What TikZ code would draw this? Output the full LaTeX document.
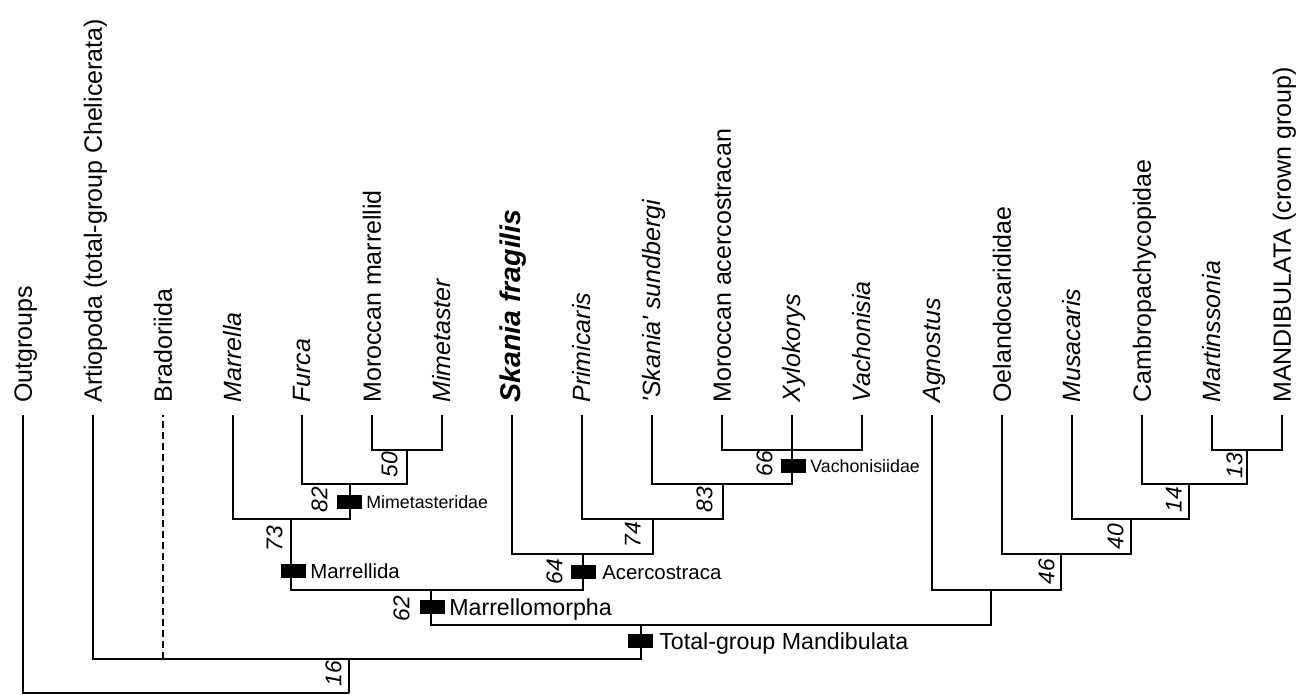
\documentclass[tikz,border=0pt]{standalone}
\usepackage{fontspec}
\setmainfont{Liberation Sans}[Ligatures=TeXOff]
\usetikzlibrary{positioning,calc}

\begin{document}
\begin{tikzpicture}[
	x=0.5pt, y=-0.5pt,
	branch/.style={line width=1pt},
	% terminal names, rotated, read from bottom to top
	taxon/.style={
		rotate=90, anchor=west, inner sep=0pt,
		text height=8.95pt, text depth=0pt,
		font=\fontsize{12.5}{14}\selectfont
	},
	% bootstrap values on the left of the stems
	support/.style={
		rotate=90, anchor=south west, inner sep=0pt,
		font=\fontsize{11.4}{13}\selectfont\itshape
	},
	% black bars marking named clades
	synbox/.style={
		fill=black, inner sep=0pt,
		minimum width=12.5pt, minimum height=7pt
	},
	cladelab/.style={
		anchor=west, inner sep=0pt, text height=7.4pt, text depth=0pt,
		font=\fontsize{10.2}{12}\selectfont
	},
	biglab/.style={cladelab, text height=8.3pt, font=\fontsize{11.6}{13}\selectfont},
	famlab/.style={cladelab, text height=6.4pt, font=\fontsize{8.9}{10}\selectfont}
	]
	\useasboundingbox (0,0) rectangle (1305,695);

	% Taxa along the top
	\foreach \nm/\xx/\txt in {
		outg/23/Outgroups,
		artio/93/Artiopoda (total-group Chelicerata),
		brad/163/Bradoriida,
		marrella/233/\textit{Marrella},
		furca/302/\textit{Furca},
		mormar/372/Moroccan marrellid,
		mimet/442/\textit{Mimetaster},
		skfrag/512/{\fontsize{14.25}{16}\selectfont\bfseries\itshape Skania fragilis},
		primi/582/\textit{Primicaris},
		sksund/652/\textit{'Skania' sundbergi},
		moracer/722/Moroccan acercostracan,
		xylo/792/\textit{Xylokorys},
		vach/862/\textit{Vachonisia},
		agno/932/\textit{Agnostus},
		oeland/1002/Oelandocarididae,
		musa/1072/\textit{Musacaris},
		cambro/1142/Cambropachycopidae,
		martin/1212/\textit{Martinssonia},
		mandib/1282/MANDIBULATA (crown group)}
	{
		\node[taxon] (l-\nm) at (\xx,403) {\txt};
		\coordinate (t-\nm) at (\xx,415);
	}

	% Internal nodes (x of stem, y of horizontal bar)
	\coordinate (root) at (349,693);
	\coordinate (nArt) at (349,659);
	\coordinate (nTot) at (641,625);
	\coordinate (nMorph) at (431,590);
	\coordinate (nMlida) at (291,519);
	\coordinate (n82) at (350,484);
	\coordinate (n50) at (407,450);
	\coordinate (nAcer) at (583,554);
	\coordinate (n74) at (653,519);
	\coordinate (n83) at (723,484);
	\coordinate (nVach) at (792,450);
	\coordinate (nMand) at (991,590);
	\coordinate (n46) at (1061,554);
	\coordinate (n40) at (1131,519);
	\coordinate (n14) at (1189,484);
	\coordinate (n13) at (1247,450);

	% Branches
	\draw[branch] (root) -| (t-outg);
	\draw[branch] (root) -- (nArt);
	\draw[branch] (nArt) -| (t-artio);
	\draw[branch, dash pattern=on 3.5pt off 2pt] (t-brad |- nArt) -- (t-brad);
	\draw[branch] (nArt) -| (nTot);
	\draw[branch] (nTot) -| (nMorph);
	\draw[branch] (nTot) -| (nMand);
	\draw[branch] (nMorph) -| (nMlida);
	\draw[branch] (nMorph) -| (nAcer);
	\draw[branch] (nMlida) -| (t-marrella);
	\draw[branch] (nMlida) -| (n82);
	\draw[branch] (n82) -| (t-furca);
	\draw[branch] (n82) -| (n50);
	\draw[branch] (n50) -| (t-mormar);
	\draw[branch] (n50) -| (t-mimet);
	\draw[branch] (nAcer) -| (t-skfrag);
	\draw[branch] (nAcer) -| (n74);
	\draw[branch] (n74) -| (t-primi);
	\draw[branch] (n74) -| (n83);
	\draw[branch] (n83) -| (t-sksund);
	\draw[branch] (n83) -| (nVach);
	\draw[branch] (nVach) -| (t-moracer);
	\draw[branch] (nVach) -- (t-xylo);
	\draw[branch] (nVach) -| (t-vach);
	\draw[branch] (nMand) -| (t-agno);
	\draw[branch] (nMand) -| (n46);
	\draw[branch] (n46) -| (t-oeland);
	\draw[branch] (n46) -| (n40);
	\draw[branch] (n40) -| (t-musa);
	\draw[branch] (n40) -| (n14);
	\draw[branch] (n14) -| (t-cambro);
	\draw[branch] (n14) -| (n13);
	\draw[branch] (n13) -| (t-martin);
	\draw[branch] (n13) -| (t-mandib);

	% Clade bars and their names
	\node[synbox] (bMim) at (349,502) {};
	\node[famlab, right=2pt of bMim] (lMim) {Mimetasteridae};
	\node[synbox] (bMlida) at (293,571) {};
	\node[cladelab, right=2pt of bMlida] (lMlida) {Marrellida};
	\node[synbox] (bMorph) at (432,607) {};
	\node[biglab, right=2pt of bMorph] (lMorph) {Marrellomorpha};
	\node[synbox] (bAcer) at (583,572) {};
	\node[cladelab, right=3pt of bAcer] (lAcer) {Acercostraca};
	\node[synbox] (bTot) at (640,641) {};
	\node[biglab, right=3pt of bTot] (lTot) {Total-group Mandibulata};
	\node[synbox] (bVach) at (793,466) {};
	\node[famlab, right=2pt of bVach] (lVach) {Vachonisiidae};

	% Support values
	\node[support] (s50) at (398,478) {50};
	\node[support] (s82) at (328,513) {82};
	\node[support] (s73) at (283,552) {73};
	\node[support] (s62) at (410,622) {62};
	\node[support] (s16) at (342,687) {16};
	\node[support] (s64) at (563,585) {64};
	\node[support] (s74) at (641,548) {74};
	\node[support] (s83) at (713,513) {83};
	\node[support] (s66) at (773,477) {66};
	\node[support] (s46) at (1055,585) {46};
	\node[support] (s40) at (1124,550) {40};
	\node[support] (s14) at (1182,513) {14};
	\node[support] (s13) at (1243,479) {13};

\end{tikzpicture}
\end{document}
